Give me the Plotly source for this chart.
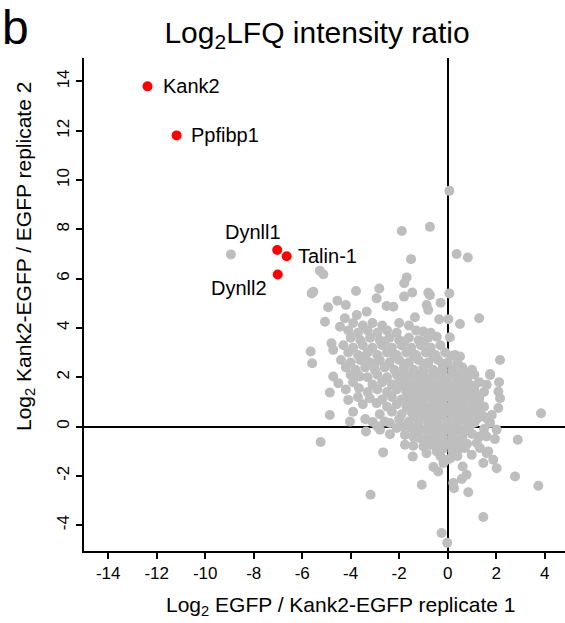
import plotly.graph_objects as go

# ---- labelled (red) proteins ----
red_names = ["Kank2", "Ppfibp1", "Dynll1", "Talin-1", "Dynll2"]
red_x = [-12.38, -11.18, -7.03, -6.64, -7.01]
red_y = [13.80, 11.81, 7.16, 6.91, 6.17]

# ---- other proteins (grey) ----
gray_x = [
    -8.94, 0.07, -0.73, -1.89, 0.37, 0.83, -1.51, -5.27, -5.13, -1.69, -1.79,
    -5.61, -5.54, -3.78, -2.82, -1.80, -1.46, -0.80, -0.73, 0.07, -0.29,
    -0.87, -0.80, -4.93, -4.55, -4.20, -2.93, -2.52, -2.24, -3.34, -3.75,
    1.30, 0.51, -0.35, 0.03, -1.35, -5.06, -4.44, -4.24, -1.00, -0.45, 0.09,
    -4.79, -4.72, -5.65, -5.59, 2.16, 1.75, 0.51, 0.16, 0.71,
    -4.86, -4.10, -4.86, -4.03, -3.09, -3.37, -5.24, -2.66, -1.44, -1.76, -1.42,
    -2.38, -2.79, -0.87, -0.59, -0.39, -0.18, -1.07, -3.18, 0.23, 0.26, 0.85,
    0.62, 0.78, 0.58, 1.47, 1.47, -0.25, -0.02, 2.02, 1.88, 1.61, 2.78, 3.74,
    2.89, 3.85, 1.95, 2.02, 1.75, 2.09, 2.16, 2.09, 2.12, 1.75, 1.61, 1.33,
    1.47, 1.67, 1.82, 1.30, 1.06, 0.78, 0.78, 1.30, 1.20, 1.33, 1.67, 0.99,
    0.71, -0.04, -0.45, -4.51, -4.72, -3.75, -3.62, -3.66, -3.21, -2.93, -2.38,
    -2.10, -1.83, -1.49, -1.28, -1.76, -1.42, -1.14, -0.87, -1.00, -0.66,
    # cloud
    -3.9, -3.5, -3.1, -2.7, -2.0, -1.6,
    -4.1, -3.7, -3.3, -2.9, -2.5, -2.1, -1.3, -0.7,
    -4.0, -3.6, -3.2, -2.8, -2.4, -2.0, -1.6, -1.2, -0.8,
    -4.3, -3.9, -3.5, -3.1, -2.7, -2.3, -1.9, -1.5, -1.1, -0.7, -0.3,
    -4.1, -3.7, -3.3, -2.9, -2.5, -2.1, -1.7, -1.3, -0.9, -0.5, -0.1, 0.3,
    -4.4, -4.0, -3.6, -3.2, -2.8, -2.4, -2.0, -1.6, -1.2, -0.8, -0.4, 0.0,
    -4.2, -3.8, -3.4, -3.0, -2.6, -2.2, -1.8, -1.4, -1.0, -0.6, -0.2, 0.2, 0.6, 1.0,
    -4.0, -3.3, -2.9, -2.5, -2.1, -1.7, -1.3, -0.9, -0.5, -0.1, 0.3, 0.7, 1.1,
    -3.9, -3.1, -2.7, -2.3, -1.9, -1.5, -1.1, -0.7, -0.3, 0.1, 0.5, 0.9, 1.3,
    -4.2, -3.3, -2.9, -2.5, -2.1, -1.7, -1.3, -0.9, -0.5, -0.1, 0.3, 0.7, 1.1, 1.5,
    -3.7, -2.7, -2.3, -1.9, -1.5, -1.1, -0.7, -0.3, 0.1, 0.5, 0.9, 1.3,
    -3.5, -2.5, -2.1, -1.7, -1.3, -0.9, -0.5, -0.1, 0.3, 0.7, 1.1, 1.5,
    -3.9, -2.8, -2.3, -1.9, -1.5, -1.1, -0.7, -0.3, 0.1, 0.5, 0.9,
    -3.4, -2.6, -2.0, -1.6, -1.2, -0.8, -0.4, 0.0, 0.4, 0.8, 1.2,
    -2.9, -1.1, -0.7, -0.3, 0.1, 0.5, 0.9, 1.5,
    -0.6, -0.2, 0.2, 0.6, 1.0, 1.6,
    -0.4, 0.0, 0.4, 0.8,
    -0.2, 0.2, 0.5,
    -0.3, 0.1, 0.4,
    # dense core near the origin
    -2.6, -1.8, -1.0,
    -3.4, -2.2, -1.4, -0.6,
    -3.0, -1.8, -1.0, -0.2, 0.4,
    -1.8, -1.4, -1.0, -0.6, -0.2, 0.2, 0.6,
    -2.0, -1.6, -1.2, -0.8, -0.4, 0.0, 0.4, 0.8,
    -1.8, -1.4, -1.0, -0.6, -0.2, 0.2, 0.6, 1.0,
    -1.6, -1.2, -0.8, -0.4, 0.0, 0.4, 0.8,
    -1.8, -1.4, -1.0, -0.6, -0.2, 0.2, 0.6, 1.0,
    -1.6, -1.2, -0.8, -0.4, 0.0, 0.4, 0.8, 1.2,
    -1.4, -1.0, -0.6, -0.2, 0.2, 0.6, 1.0,
    -1.2, -0.8, -0.4, 0.0, 0.4, 0.8, 1.1,
    -0.9, -0.5, -0.1, 0.3, 0.7,
    -0.6, -0.2, 0.2, 0.6,
    -0.3, 0.1, 0.4,
]
gray_y = [
    6.98, 9.56, 8.10, 7.93, 7.00, 6.86, 6.79, 6.32, 6.18, 6.05, 5.81,
    5.40, 5.47, 5.50, 5.60, 5.27, 5.44, 5.43, 5.33, 5.40, 5.02,
    4.93, 4.73, 4.84, 5.10, 4.93, 5.20, 4.89, 4.86, 4.66, 4.52,
    4.39, 4.16, 4.35, 4.35, 4.43, 4.25, 4.05, 4.39, 3.85, 3.64, 3.62,
    3.38, 3.11, 3.04, 2.57, 2.70, 2.13, 2.84, 2.86, 2.19,
    1.38, 1.08, 0.47, 0.20, 0.18, -0.20, -0.63, -1.05, -1.22, -0.74, -0.78,
    -0.31, -0.13, -1.08, -1.64, -1.82, -1.48, -2.36, -2.77, -2.29, -2.50, -2.67,
    -1.62, -1.96, -2.13, -1.48, -3.67, -4.32, -4.72, -1.69, -1.35, -1.08, -2.03, -2.40,
    -0.54, 0.54, -0.51, -0.13, 0.14, 0.75, 1.15, 1.42, 1.80, 2.09, 1.69, 0.61,
    0.41, 0.27, 0.47, 1.22, 1.42, 1.62, 2.16, -0.41, -0.67, -0.87, -1.01, -1.15,
    -0.87, -1.35, -1.01, 1.76, 2.03, 2.16, 2.03, 1.55, 1.15, 0.95, 0.14,
    -0.06, 0.00, -0.06, -0.13, -0.34, -0.41, -0.47, -0.54, -0.81, -0.74,
    # cloud
    4.2, 4.1, 4.2, 4.1, 4.2, 4.1,
    3.9, 3.8, 3.9, 3.8, 3.9, 3.8, 3.9, 3.8,
    3.6, 3.5, 3.6, 3.5, 3.6, 3.5, 3.6, 3.5, 3.6,
    3.3, 3.2, 3.3, 3.2, 3.3, 3.2, 3.3, 3.2, 3.3, 3.2, 3.3,
    3.0, 2.9, 3.0, 2.9, 3.0, 2.9, 3.0, 2.9, 3.0, 2.9, 3.0, 2.9,
    2.7, 2.6, 2.7, 2.6, 2.7, 2.6, 2.7, 2.6, 2.7, 2.6, 2.7, 2.6,
    2.4, 2.3, 2.4, 2.3, 2.4, 2.3, 2.4, 2.3, 2.4, 2.3, 2.4, 2.3, 2.4, 2.3,
    2.1, 2.0, 2.1, 2.0, 2.1, 2.0, 2.1, 2.0, 2.1, 2.0, 2.1, 2.0, 2.1,
    1.8, 1.7, 1.8, 1.7, 1.8, 1.7, 1.8, 1.7, 1.8, 1.7, 1.8, 1.7, 1.8,
    1.5, 1.4, 1.5, 1.4, 1.5, 1.4, 1.5, 1.4, 1.5, 1.4, 1.5, 1.4, 1.5, 1.4,
    1.2, 1.1, 1.2, 1.1, 1.2, 1.1, 1.2, 1.1, 1.2, 1.1, 1.2, 1.1,
    0.9, 0.8, 0.9, 0.8, 0.9, 0.8, 0.9, 0.8, 0.9, 0.8, 0.9, 0.8,
    0.6, 0.5, 0.6, 0.5, 0.6, 0.5, 0.6, 0.5, 0.6, 0.5, 0.6,
    0.3, 0.2, 0.3, 0.2, 0.3, 0.2, 0.3, 0.2, 0.3, 0.2, 0.3,
    0.0, -0.1, 0.0, -0.1, 0.0, -0.1, 0.0, -0.1,
    -0.3, -0.4, -0.3, -0.4, -0.3, -0.4,
    -0.6, -0.7, -0.6, -0.7,
    -0.9, -1.0, -0.9,
    -1.2, -1.3, -1.2,
    # dense core near the origin
    3.45, 3.45, 3.45,
    2.85, 2.85, 2.85, 2.85,
    2.55, 2.55, 2.55, 2.55, 2.55,
    2.25, 2.25, 2.25, 2.25, 2.25, 2.25, 2.25,
    1.95, 1.95, 1.95, 1.95, 1.95, 1.95, 1.95, 1.95,
    1.65, 1.65, 1.65, 1.65, 1.65, 1.65, 1.65, 1.65,
    1.35, 1.35, 1.35, 1.35, 1.35, 1.35, 1.35,
    1.05, 1.05, 1.05, 1.05, 1.05, 1.05, 1.05, 1.05,
    0.75, 0.75, 0.75, 0.75, 0.75, 0.75, 0.75, 0.75,
    0.45, 0.45, 0.45, 0.45, 0.45, 0.45, 0.45,
    0.15, 0.15, 0.15, 0.15, 0.15, 0.15, 0.15,
    -0.15, -0.15, -0.15, -0.15, -0.15,
    -0.45, -0.45, -0.45, -0.45,
    -0.75, -0.75, -0.75,
]

x_ticks = [-14, -12, -10, -8, -6, -4, -2, 0, 2, 4]
x_tick_text = ["-14", "-12", "-10", "-8", "-6", "-4", "-2", "0", "2", "4"]
y_ticks = [-4, -2, 0, 2, 4, 6, 8, 10, 12, 14]
y_tick_text = ["-4", "-2", "0", "2", "4", "6", "8", "10", "12", "14"]

FONT = "Liberation Sans, Arial, sans-serif"

fig = go.Figure()
fig.add_trace(go.Scatter(
    x=gray_x, y=gray_y, mode="markers",
    marker=dict(color="#bebebe", size=10, line=dict(width=0)),
    hoverinfo="skip", showlegend=False))
fig.add_trace(go.Scatter(
    x=red_x, y=red_y, mode="markers",
    marker=dict(color="#ff0000", size=10, line=dict(width=0)),
    text=red_names, showlegend=False))

# label offsets (pixels) relative to each red point
label_opts = {
    "Kank2": dict(xanchor="left", yanchor="middle", xshift=13, yshift=0),
    "Ppfibp1": dict(xanchor="left", yanchor="middle", xshift=12, yshift=0),
    "Dynll1": dict(xanchor="center", yanchor="middle", xshift=-24, yshift=18),
    "Talin-1": dict(xanchor="left", yanchor="middle", xshift=9, yshift=0),
    "Dynll2": dict(xanchor="center", yanchor="middle", xshift=-39, yshift=-14),
}
for n, xv, yv in zip(red_names, red_x, red_y):
    fig.add_annotation(x=xv, y=yv, xref="x", yref="y", text=n, showarrow=False,
                       font=dict(family=FONT, size=20, color="black"), **label_opts[n])

# axis titles and panel letter
fig.add_annotation(x=0.534, y=-0.112, xref="paper", yref="paper",
                   text="Log<sub>2</sub> EGFP / Kank2-EGFP replicate 1", showarrow=False,
                   xanchor="center", yanchor="middle",
                   font=dict(family=FONT, size=21, color="black"))
fig.add_annotation(x=-0.123, y=0.598, xref="paper", yref="paper",
                   text="Log<sub>2</sub> Kank2-EGFP / EGFP replicate 2", showarrow=False,
                   textangle=-90, xanchor="center", yanchor="middle",
                   font=dict(family=FONT, size=21, color="black"))
fig.add_annotation(x=-84 / 481, y=1 + 31 / 493, xref="paper", yref="paper",
                   text="b", showarrow=False, xanchor="left", yanchor="middle",
                   font=dict(family=FONT, size=48, color="black"))

fig.update_layout(
    width=565, height=623,
    margin=dict(l=84, r=0, t=58, b=72),
    paper_bgcolor="white", plot_bgcolor="white",
    title=dict(text="Log<sub>2</sub>LFQ intensity ratio", x=317 / 565, xanchor="center",
               y=1 - 32 / 623, yanchor="middle",
               font=dict(family=FONT, size=30, color="black")),
    font=dict(family=FONT, color="black"),
    xaxis=dict(range=[-15.0, 4.84], tickvals=x_ticks, ticktext=x_tick_text,
               ticks="outside", ticklen=6,
               tickwidth=2, tickcolor="black", showline=True, linecolor="black",
               linewidth=2, showgrid=False, zeroline=True, zerolinecolor="black",
               zerolinewidth=2, tickfont=dict(size=17, family=FONT, color="black")),
    yaxis=dict(range=[-5.05, 14.95], tickvals=y_ticks, ticktext=y_tick_text,
               ticks="outside", ticklen=6,
               tickwidth=2, tickcolor="black", showline=True, linecolor="black",
               linewidth=2, showgrid=False, zeroline=True, zerolinecolor="black",
               zerolinewidth=2, tickangle=-90,
               tickfont=dict(size=17, family=FONT, color="black")),
)

fig.write_html("out.html")
